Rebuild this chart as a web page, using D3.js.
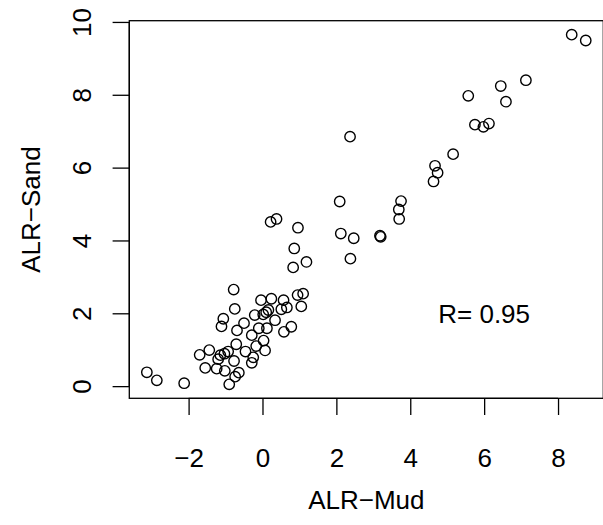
<!DOCTYPE html>
<html>
<head>
  <meta charset="utf-8">
  <title>ALR Sand vs Mud</title>
  <script src="https://d3js.org/d3.v7.min.js"></script>
  <style>
    body { margin: 0; background: #fff; }
    text { font-family: "Liberation Sans", Arial, Helvetica, sans-serif; }
  </style>
</head>
<body>
  <script>
    // values
    const alrMud = [
      8.37, 8.75, 7.13, 6.45, 6.59, 5.57, 5.75, 5.98, 6.13, 2.37,
      5.16, 4.67, 4.74, 4.63, 2.09, 3.75, 3.69, 3.70, 2.12, 2.47,
      3.18, 3.20, 2.38,
      0.22, 0.38, 0.96, 0.86, 1.19, 0.83,
      -0.78, -0.75, -1.06, -1.11, -0.50, -0.69,
      -0.04, 0.24, 0.57, 0.95, 1.10, 1.05, 0.66, 0.51, 0.16, 0.10, 0.02, -0.21,
      0.34, 0.12, -0.10, 0.78, 0.58, -0.29, 0.03, -0.17, 0.07, -0.71, -0.46,
      -0.25, -0.29,
      -1.44, -1.70, -1.14, -1.03, -0.93, -1.20, -0.77, -1.55, -1.24, -1.02,
      -0.64, -0.74, -0.90, -3.13, -2.86, -2.12
    ];
    const alrSand = [
      9.65, 9.49, 8.40, 8.24, 7.81, 7.97, 7.18, 7.12, 7.21, 6.85,
      6.37, 6.05, 5.86, 5.62, 5.07, 5.08, 4.85, 4.59, 4.19, 4.06,
      4.13, 4.10, 3.50,
      4.51, 4.59, 4.35, 3.78, 3.41, 3.26,
      2.65, 2.12, 1.85, 1.64, 1.73, 1.53,
      2.36, 2.40, 2.36, 2.50, 2.54, 2.19, 2.16, 2.11, 2.09, 2.03, 1.97, 1.95,
      1.81, 1.59, 1.59, 1.63, 1.49, 1.40, 1.25, 1.10, 0.98, 1.15, 0.95,
      0.79, 0.64,
      0.99, 0.86, 0.85, 0.89, 0.95, 0.74, 0.69, 0.50, 0.48, 0.42,
      0.37, 0.26, 0.05, 0.38, 0.16, 0.08
    ];
    const xTicks = [-2, 0, 2, 4, 6, 8];
    const yTicks = [0, 2, 4, 6, 8, 10];
    const xTitle = "ALR\u2212Mud";
    const yTitle = "ALR\u2212Sand";
    const note = "R= 0.95";

    const width = 603, height = 525;
    const plotL = 129.3, plotT = 20.7, plotR = 603.3, plotB = 398.3;
    const fs = 26;

    const data = alrMud.map((m, i) => ({ x: m, y: alrSand[i] }));

    // R style 4% padding on the data range
    function pad(ext) {
      const r = ext[1] - ext[0];
      return [ext[0] - 0.04 * r, ext[1] + 0.04 * r];
    }

    const x = d3.scaleLinear().domain(pad(d3.extent(alrMud))).range([plotL, plotR]);
    const y = d3.scaleLinear().domain(pad(d3.extent(alrSand))).range([plotB, plotT]);

    const svg = d3.select("body").append("svg")
      .attr("width", width)
      .attr("height", height);

    svg.append("rect")
      .attr("width", width).attr("height", height)
      .attr("fill", "#fff");

    // points
    svg.append("g")
      .selectAll("circle")
      .data(data)
      .enter()
      .append("circle")
      .attr("cx", d => x(d.x))
      .attr("cy", d => y(d.y))
      .attr("r", 5.2)
      .attr("fill", "none")
      .attr("stroke", "#000")
      .attr("stroke-width", 1.4);

    // box
    svg.append("rect")
      .attr("x", plotL).attr("y", plotT)
      .attr("width", plotR - plotL).attr("height", plotB - plotT)
      .attr("fill", "none")
      .attr("stroke", "#000")
      .attr("stroke-width", 1.3);

    // x axis
    const gx = svg.append("g")
      .attr("transform", "translate(0," + plotB + ")")
      .call(d3.axisBottom(x).tickValues(xTicks).tickSize(16.7).tickPadding(34));
    gx.select(".domain")
      .attr("d", "M" + x(xTicks[0]) + ",0H" + x(xTicks[xTicks.length - 1]))
      .attr("stroke-width", 1.3);
    gx.selectAll(".tick line").attr("stroke-width", 1.3);
    gx.selectAll("text")
      .attr("font-size", fs)
      .attr("font-family", "Liberation Sans, Arial, sans-serif")
      .attr("fill", "#000");

    // y axis, labels parallel to the axis
    const gy = svg.append("g")
      .attr("transform", "translate(" + plotL + ",0)")
      .call(d3.axisLeft(y).tickValues(yTicks).tickSize(16.7));
    gy.select(".domain")
      .attr("d", "M0," + y(yTicks[0]) + "V" + y(yTicks[yTicks.length - 1]))
      .attr("stroke-width", 1.3);
    gy.selectAll(".tick line").attr("stroke-width", 1.3);
    gy.selectAll("text")
      .attr("x", null)
      .attr("dy", null)
      .attr("text-anchor", "middle")
      .attr("transform", "translate(-38.3,0) rotate(-90)")
      .attr("font-size", fs)
      .attr("font-family", "Liberation Sans, Arial, sans-serif")
      .attr("fill", "#000");

    // titles
    svg.append("text")
      .attr("x", (plotL + plotR) / 2)
      .attr("y", 509)
      .attr("text-anchor", "middle")
      .attr("font-size", fs)
      .text(xTitle);

    svg.append("text")
      .attr("transform", "translate(40," + ((plotT + plotB) / 2) + ") rotate(-90)")
      .attr("text-anchor", "middle")
      .attr("font-size", fs)
      .text(yTitle);

    // correlation note
    svg.append("text")
      .attr("x", x(6))
      .attr("y", y(2))
      .attr("dy", "0.36em")
      .attr("text-anchor", "middle")
      .attr("font-size", fs)
      .text(note);
  </script>
</body>
</html>
